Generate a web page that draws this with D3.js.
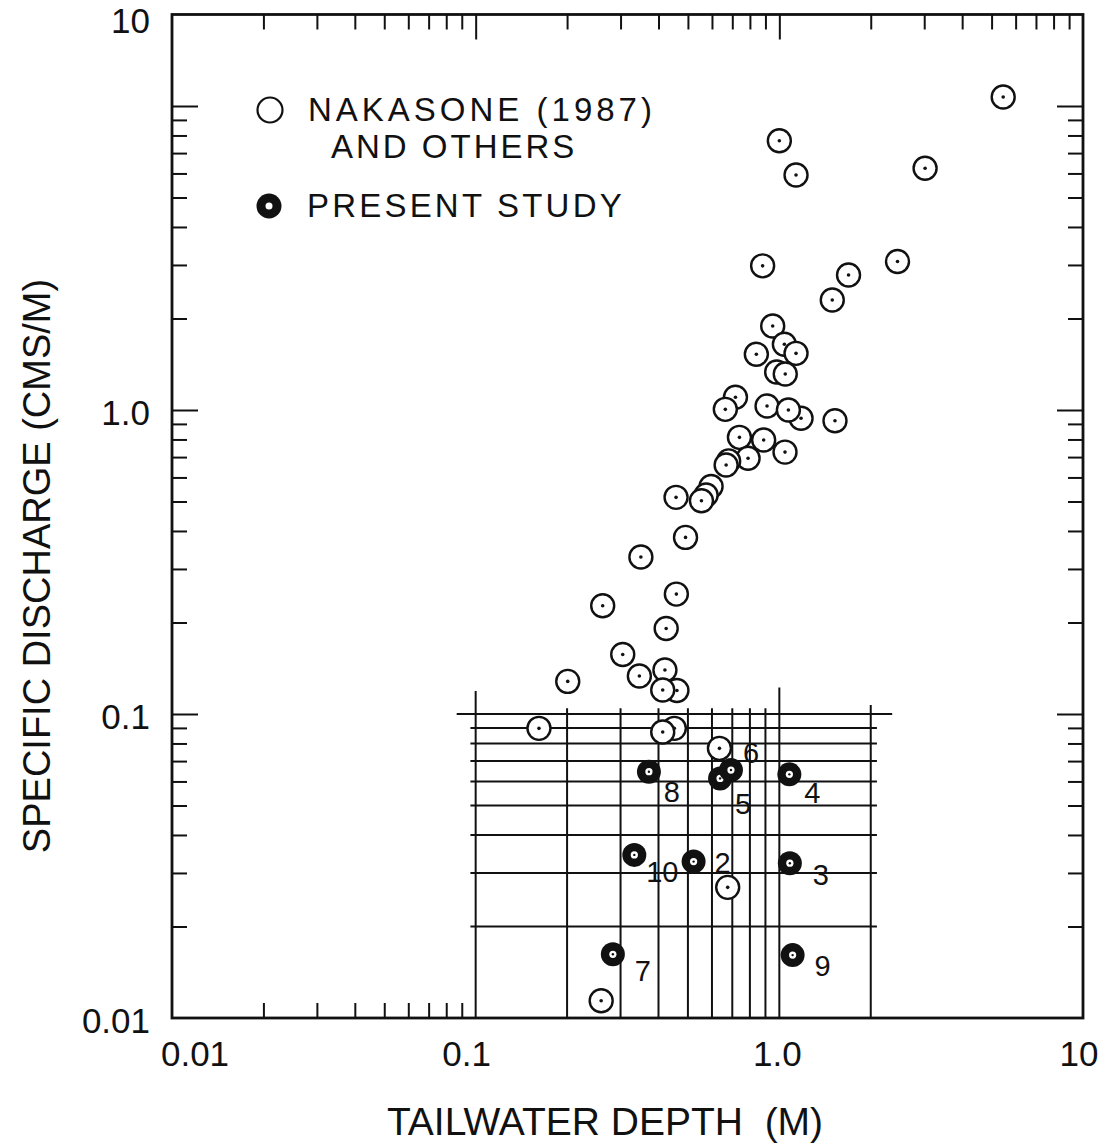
<!DOCTYPE html>
<html>
<head>
<meta charset="utf-8">
<script src="https://cdn.jsdelivr.net/npm/d3@7"></script>
<style>
  html, body { margin: 0; padding: 0; background: #fff; }
  svg { display: block; }
  text { font-family: "Liberation Sans", Arial, Helvetica, sans-serif; fill: #111; }
</style>
</head>
<body>
<svg id="chart" width="1117" height="1144"></svg>
<script>
// Nakasone (1987) and others: tailwater depth (m) vs specific discharge (cms/m)
const nakasoneDepth = [
  1.179, 0.596, 0.574, 0.460, 0.451,
  5.46, 1.00, 1.135, 3.02, 0.881, 2.45, 1.69, 1.494, 0.951, 1.039,
  1.135, 0.840, 0.980, 1.046, 0.717, 0.664, 0.911, 1.071, 1.525, 0.739,
  0.888, 1.044, 0.789, 0.681, 0.668, 0.554, 0.457, 0.491, 0.350, 0.458,
  0.262, 0.424, 0.305, 0.201, 0.346, 0.420, 0.413, 0.1616, 0.413, 0.635,
  0.676, 0.259
];
const nakasoneDischarge = [
  0.939, 0.560, 0.525, 0.1195, 0.0897,
  10.7, 7.69, 5.93, 6.24, 2.98, 3.08, 2.78, 2.30, 1.89, 1.645,
  1.536, 1.525, 1.334, 1.313, 1.101, 1.005, 1.031, 1.000, 0.922, 0.813,
  0.797, 0.727, 0.694, 0.680, 0.659, 0.503, 0.516, 0.381, 0.3285, 0.248,
  0.227, 0.191, 0.157, 0.128, 0.1334, 0.1395, 0.1199, 0.0897, 0.0873, 0.0771,
  0.0269, 0.0114
];

// Present study runs
const runIds = [2, 3, 4, 5, 6, 7, 8, 9, 10];
const runDepth = [0.522, 1.083, 1.079, 0.638, 0.693, 0.283, 0.372, 1.106, 0.333];
const runDischarge = [0.0327, 0.0323, 0.0633, 0.0614, 0.0654, 0.0162, 0.0646, 0.0161, 0.0344];

// Test-range grid (depth lines and discharge lines)
const gridDepths = [0.1, 0.2, 0.3, 0.4, 0.5, 0.6, 0.7, 0.8, 0.9, 1.0, 2.0];
const gridDepthTops = [0.119, 0.1045, 0.1045, 0.1045, 0.1045, 0.1045, 0.1045, 0.1045, 0.1045, 0.1223, 0.107];
const gridDischarges = [0.1, 0.09, 0.08, 0.07, 0.06, 0.05, 0.04, 0.03, 0.02];
const gridDischargeFrom = [0.0866, 0.0961, 0.0961, 0.0961, 0.0961, 0.0961, 0.0961, 0.0961, 0.0961];
const gridDischargeTo = [2.353, 2.096, 2.096, 2.096, 2.096, 2.096, 2.096, 2.096, 2.096];

// Axis ticks and labels
const xTickValues = [0.01, 0.1, 1, 10];
const xTickLabels = ["0.01", "0.1", "1.0", "10"];
const yTickValues = [0.01, 0.1, 1, 10];
const yTickLabels = ["0.01", "0.1", "1.0", "10"];

const svg = d3.select("#chart");
const ink = "#111";

const x = d3.scaleLog().domain([0.01, 10]).range([172, 1083]);
const y = d3.scaleLog().domain([0.01, 20]).range([1018, 1018 - 304 * Math.log10(2000)]);

const [x0, x1] = x.range();
const [yB, yT] = y.range();

// minor ticks for each decade
const minors = (decades) => decades.flatMap(d => d3.range(2, 10).map(k => +(d * k).toPrecision(3)));

function tickAxis(gen, values, size, transform) {
  const g = svg.append("g").attr("transform", transform)
    .call(gen.tickValues(values).tickSizeInner(-size).tickSizeOuter(0).tickFormat(""));
  g.select(".domain").remove();
  g.selectAll(".tick line").attr("stroke", ink).attr("stroke-width", 2);
  return g;
}

// top axis: ticks pointing into the plot
tickAxis(d3.axisTop(x), minors([0.01, 0.1, 1]), 15, `translate(0,${yT})`);
tickAxis(d3.axisTop(x), [0.1, 1], 25, `translate(0,${yT})`);
// bottom axis: minor ticks of first decade
tickAxis(d3.axisBottom(x), minors([0.01]), 15, `translate(0,${yB})`);
// left and right axes
tickAxis(d3.axisLeft(y), minors([0.01, 0.1, 1]), 15, `translate(${x0},0)`);
tickAxis(d3.axisLeft(y), [0.1, 1, 10], 26, `translate(${x0},0)`);
tickAxis(d3.axisRight(y), minors([0.01, 0.1, 1]), 15, `translate(${x1},0)`);
tickAxis(d3.axisRight(y), [0.1, 1, 10], 26, `translate(${x1},0)`);

// frame
svg.append("rect")
  .attr("x", x0).attr("y", yT).attr("width", x1 - x0).attr("height", yB - yT)
  .attr("fill", "none").attr("stroke", ink).attr("stroke-width", 2.8);

// tick labels
const xLabelNudge = [23, -9, -2, -4];
svg.append("g").selectAll("text").data(xTickValues).join("text")
  .attr("x", (d, i) => x(d) + xLabelNudge[i])
  .attr("y", 1066)
  .attr("text-anchor", "middle")
  .attr("font-size", 35)
  .text((d, i) => xTickLabels[i]);

svg.append("g").selectAll("text").data(yTickValues).join("text")
  .attr("x", 150)
  .attr("y", d => (d === 10 ? yT + 6 : y(d) + 3))
  .attr("dy", "0.35em")
  .attr("text-anchor", "end")
  .attr("font-size", 35)
  .text((d, i) => yTickLabels[i]);

// axis titles
svg.append("text")
  .attr("x", 605).attr("y", 1135)
  .attr("text-anchor", "middle")
  .attr("font-size", 39)
  .attr("xml:space", "preserve")
  .text("TAILWATER DEPTH  (M)");

svg.append("text")
  .attr("transform", "translate(50,566) rotate(-90)")
  .attr("text-anchor", "middle")
  .attr("font-size", 38)
  .text("SPECIFIC DISCHARGE (CMS/M)");

// test-range grid
const grid = svg.append("g").attr("stroke", ink).attr("stroke-width", 2);
grid.selectAll("line.v").data(gridDepths).join("line").attr("class", "v")
  .attr("x1", d => x(d)).attr("x2", d => x(d))
  .attr("y1", y(0.01)).attr("y2", (d, i) => y(gridDepthTops[i]));
grid.selectAll("line.h").data(gridDischarges).join("line").attr("class", "h")
  .attr("y1", d => y(d)).attr("y2", d => y(d))
  .attr("x1", (d, i) => x(gridDischargeFrom[i])).attr("x2", (d, i) => x(gridDischargeTo[i]));

// Nakasone and others: open circles with centre dot
const nak = svg.append("g").selectAll("g").data(nakasoneDepth).join("g")
  .attr("transform", (d, i) => `translate(${x(d)},${y(nakasoneDischarge[i])})`);
nak.append("circle").attr("r", 11.5).attr("fill", "#fff").attr("stroke", ink).attr("stroke-width", 2.4);
nak.append("circle").attr("r", 1.8).attr("fill", ink);

// present study: solid rings
const runs = svg.append("g").selectAll("g").data(runIds).join("g")
  .attr("transform", (d, i) => `translate(${x(runDepth[i])},${y(runDischarge[i])})`);
runs.append("circle").attr("r", 12).attr("fill", ink);
runs.append("circle").attr("r", 3.6).attr("fill", "#fff");
runs.append("circle").attr("r", 1.2).attr("fill", ink);

// run numbers
const runLabelNudge = {2: [29, 1], 3: [31, 11], 4: [23, 18], 5: [23, 25], 6: [20, -18],
                       7: [30, 16], 8: [23, 20], 9: [30, 10], 10: [28, 17]};
svg.append("g").selectAll("text").data(runIds).join("text")
  .attr("x", (d, i) => x(runDepth[i]) + runLabelNudge[d][0])
  .attr("y", (d, i) => y(runDischarge[i]) + runLabelNudge[d][1])
  .attr("dy", "0.36em")
  .attr("text-anchor", "middle")
  .attr("font-size", 29)
  .text(d => d);

// legend
const legend = svg.append("g");
legend.append("circle").attr("cx", 270).attr("cy", 110).attr("r", 12.5)
  .attr("fill", "#fff").attr("stroke", ink).attr("stroke-width", 2.2);
legend.append("text").attr("x", 308).attr("y", 121).attr("font-size", 33)
  .attr("letter-spacing", 4).text("NAKASONE (1987)");
legend.append("text").attr("x", 331).attr("y", 158).attr("font-size", 33)
  .attr("letter-spacing", 3).text("AND OTHERS");
legend.append("circle").attr("cx", 269).attr("cy", 206).attr("r", 12.5).attr("fill", ink);
legend.append("circle").attr("cx", 269).attr("cy", 206).attr("r", 3.5).attr("fill", "#fff");
legend.append("text").attr("x", 307).attr("y", 217).attr("font-size", 33)
  .attr("letter-spacing", 3.2).text("PRESENT STUDY");
</script>
</body>
</html>
